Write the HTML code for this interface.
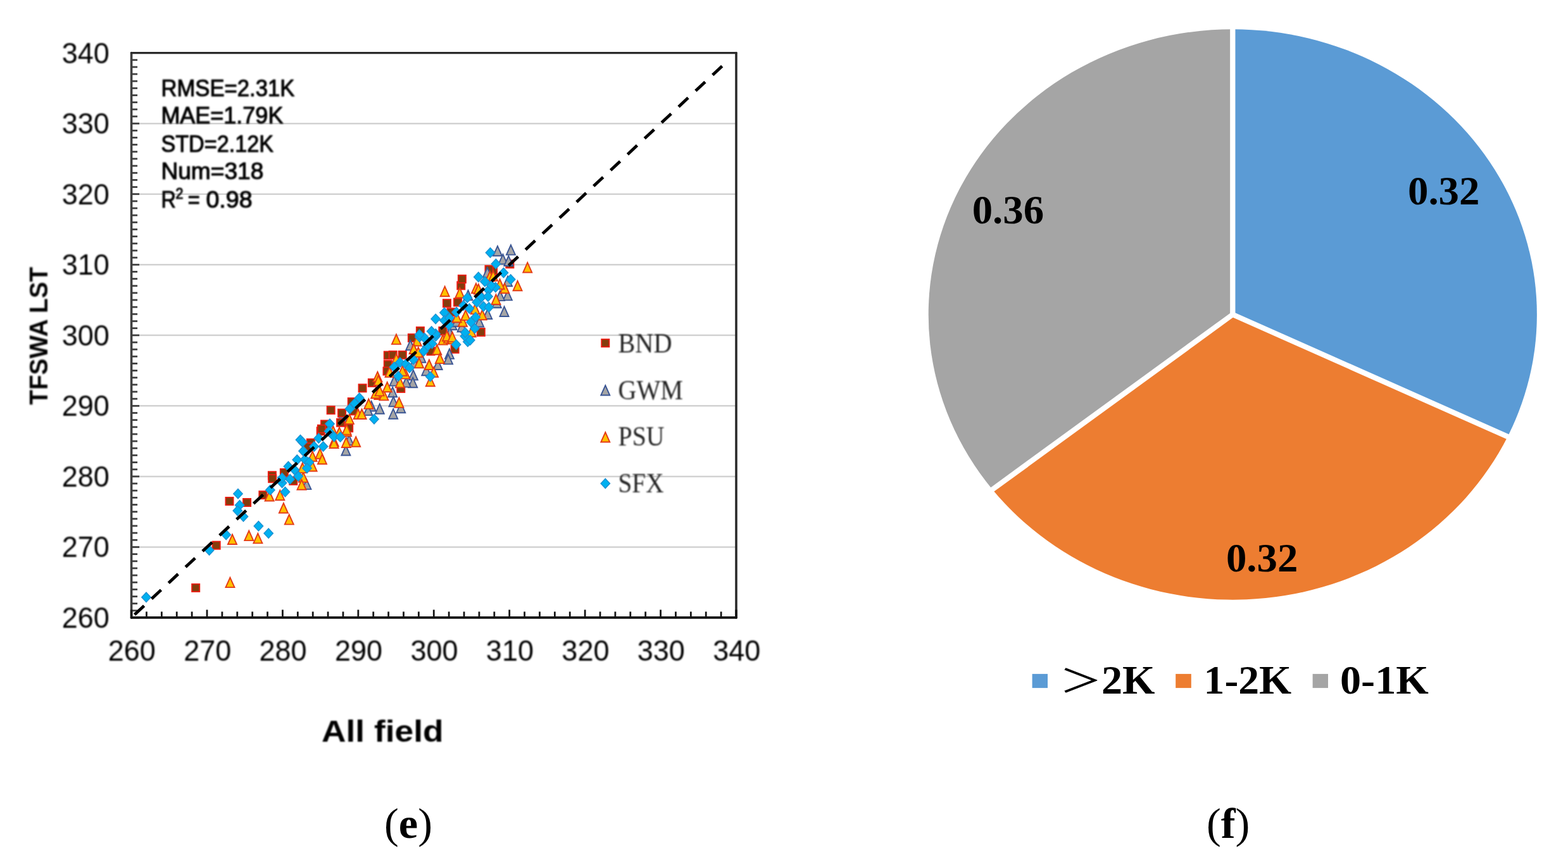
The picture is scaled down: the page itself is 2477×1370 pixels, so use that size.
<!DOCTYPE html>
<html lang="en"><head><meta charset="utf-8"><title>Figure (e) scatter and (f) pie</title>
<style>
html,body{margin:0;padding:0;background:#fff;}
body{width:2477px;height:1370px;overflow:hidden;}
svg{display:block;}
.sans{font-family:"Liberation Sans",sans-serif;}
.serif{font-family:"Liberation Serif",serif;}
.cjk{font-family:"Liberation Serif","Noto Serif CJK SC","Noto Sans CJK SC",serif;}
</style></head><body>
<svg width="2477" height="1370" viewBox="0 0 2477 1370" role="img" aria-label="Scatter plot of TFSWA LST versus field LST for all sites (e) and pie chart of error distribution (f)">
<rect x="0" y="0" width="2477" height="1370" fill="#ffffff"/>
<defs><filter id="soft" x="-2%" y="-2%" width="104%" height="104%" color-interpolation-filters="sRGB"><feGaussianBlur stdDeviation="0.8"/></filter></defs>
<g id="scatter">
<line x1="207.6" y1="864.45" x2="1163.0" y2="864.45" stroke="#d2d2d2" stroke-width="2.5"/>
<line x1="207.6" y1="752.90" x2="1163.0" y2="752.90" stroke="#d2d2d2" stroke-width="2.5"/>
<line x1="207.6" y1="641.35" x2="1163.0" y2="641.35" stroke="#d2d2d2" stroke-width="2.5"/>
<line x1="207.6" y1="529.80" x2="1163.0" y2="529.80" stroke="#d2d2d2" stroke-width="2.5"/>
<line x1="207.6" y1="418.25" x2="1163.0" y2="418.25" stroke="#d2d2d2" stroke-width="2.5"/>
<line x1="207.6" y1="306.70" x2="1163.0" y2="306.70" stroke="#d2d2d2" stroke-width="2.5"/>
<line x1="207.6" y1="195.15" x2="1163.0" y2="195.15" stroke="#d2d2d2" stroke-width="2.5"/>
<g id="yticks">
<line x1="207.6" y1="976.00" x2="220.1" y2="976.00" stroke="#404040" stroke-width="2.8"/>
<line x1="207.6" y1="964.85" x2="217.1" y2="964.85" stroke="#404040" stroke-width="2.8"/>
<line x1="207.6" y1="953.69" x2="217.1" y2="953.69" stroke="#404040" stroke-width="2.8"/>
<line x1="207.6" y1="942.53" x2="217.1" y2="942.53" stroke="#404040" stroke-width="2.8"/>
<line x1="207.6" y1="931.38" x2="217.1" y2="931.38" stroke="#404040" stroke-width="2.8"/>
<line x1="207.6" y1="920.23" x2="217.1" y2="920.23" stroke="#404040" stroke-width="2.8"/>
<line x1="207.6" y1="909.07" x2="217.1" y2="909.07" stroke="#404040" stroke-width="2.8"/>
<line x1="207.6" y1="897.91" x2="217.1" y2="897.91" stroke="#404040" stroke-width="2.8"/>
<line x1="207.6" y1="886.76" x2="217.1" y2="886.76" stroke="#404040" stroke-width="2.8"/>
<line x1="207.6" y1="875.61" x2="217.1" y2="875.61" stroke="#404040" stroke-width="2.8"/>
<line x1="207.6" y1="864.45" x2="220.1" y2="864.45" stroke="#404040" stroke-width="2.8"/>
<line x1="207.6" y1="853.29" x2="217.1" y2="853.29" stroke="#404040" stroke-width="2.8"/>
<line x1="207.6" y1="842.14" x2="217.1" y2="842.14" stroke="#404040" stroke-width="2.8"/>
<line x1="207.6" y1="830.99" x2="217.1" y2="830.99" stroke="#404040" stroke-width="2.8"/>
<line x1="207.6" y1="819.83" x2="217.1" y2="819.83" stroke="#404040" stroke-width="2.8"/>
<line x1="207.6" y1="808.67" x2="217.1" y2="808.67" stroke="#404040" stroke-width="2.8"/>
<line x1="207.6" y1="797.52" x2="217.1" y2="797.52" stroke="#404040" stroke-width="2.8"/>
<line x1="207.6" y1="786.37" x2="217.1" y2="786.37" stroke="#404040" stroke-width="2.8"/>
<line x1="207.6" y1="775.21" x2="217.1" y2="775.21" stroke="#404040" stroke-width="2.8"/>
<line x1="207.6" y1="764.06" x2="217.1" y2="764.06" stroke="#404040" stroke-width="2.8"/>
<line x1="207.6" y1="752.90" x2="220.1" y2="752.90" stroke="#404040" stroke-width="2.8"/>
<line x1="207.6" y1="741.75" x2="217.1" y2="741.75" stroke="#404040" stroke-width="2.8"/>
<line x1="207.6" y1="730.59" x2="217.1" y2="730.59" stroke="#404040" stroke-width="2.8"/>
<line x1="207.6" y1="719.43" x2="217.1" y2="719.43" stroke="#404040" stroke-width="2.8"/>
<line x1="207.6" y1="708.28" x2="217.1" y2="708.28" stroke="#404040" stroke-width="2.8"/>
<line x1="207.6" y1="697.12" x2="217.1" y2="697.12" stroke="#404040" stroke-width="2.8"/>
<line x1="207.6" y1="685.97" x2="217.1" y2="685.97" stroke="#404040" stroke-width="2.8"/>
<line x1="207.6" y1="674.82" x2="217.1" y2="674.82" stroke="#404040" stroke-width="2.8"/>
<line x1="207.6" y1="663.66" x2="217.1" y2="663.66" stroke="#404040" stroke-width="2.8"/>
<line x1="207.6" y1="652.50" x2="217.1" y2="652.50" stroke="#404040" stroke-width="2.8"/>
<line x1="207.6" y1="641.35" x2="220.1" y2="641.35" stroke="#404040" stroke-width="2.8"/>
<line x1="207.6" y1="630.20" x2="217.1" y2="630.20" stroke="#404040" stroke-width="2.8"/>
<line x1="207.6" y1="619.04" x2="217.1" y2="619.04" stroke="#404040" stroke-width="2.8"/>
<line x1="207.6" y1="607.88" x2="217.1" y2="607.88" stroke="#404040" stroke-width="2.8"/>
<line x1="207.6" y1="596.73" x2="217.1" y2="596.73" stroke="#404040" stroke-width="2.8"/>
<line x1="207.6" y1="585.58" x2="217.1" y2="585.58" stroke="#404040" stroke-width="2.8"/>
<line x1="207.6" y1="574.42" x2="217.1" y2="574.42" stroke="#404040" stroke-width="2.8"/>
<line x1="207.6" y1="563.27" x2="217.1" y2="563.27" stroke="#404040" stroke-width="2.8"/>
<line x1="207.6" y1="552.11" x2="217.1" y2="552.11" stroke="#404040" stroke-width="2.8"/>
<line x1="207.6" y1="540.96" x2="217.1" y2="540.96" stroke="#404040" stroke-width="2.8"/>
<line x1="207.6" y1="529.80" x2="220.1" y2="529.80" stroke="#404040" stroke-width="2.8"/>
<line x1="207.6" y1="518.64" x2="217.1" y2="518.64" stroke="#404040" stroke-width="2.8"/>
<line x1="207.6" y1="507.49" x2="217.1" y2="507.49" stroke="#404040" stroke-width="2.8"/>
<line x1="207.6" y1="496.34" x2="217.1" y2="496.34" stroke="#404040" stroke-width="2.8"/>
<line x1="207.6" y1="485.18" x2="217.1" y2="485.18" stroke="#404040" stroke-width="2.8"/>
<line x1="207.6" y1="474.02" x2="217.1" y2="474.02" stroke="#404040" stroke-width="2.8"/>
<line x1="207.6" y1="462.87" x2="217.1" y2="462.87" stroke="#404040" stroke-width="2.8"/>
<line x1="207.6" y1="451.72" x2="217.1" y2="451.72" stroke="#404040" stroke-width="2.8"/>
<line x1="207.6" y1="440.56" x2="217.1" y2="440.56" stroke="#404040" stroke-width="2.8"/>
<line x1="207.6" y1="429.40" x2="217.1" y2="429.40" stroke="#404040" stroke-width="2.8"/>
<line x1="207.6" y1="418.25" x2="220.1" y2="418.25" stroke="#404040" stroke-width="2.8"/>
<line x1="207.6" y1="407.10" x2="217.1" y2="407.10" stroke="#404040" stroke-width="2.8"/>
<line x1="207.6" y1="395.94" x2="217.1" y2="395.94" stroke="#404040" stroke-width="2.8"/>
<line x1="207.6" y1="384.79" x2="217.1" y2="384.79" stroke="#404040" stroke-width="2.8"/>
<line x1="207.6" y1="373.63" x2="217.1" y2="373.63" stroke="#404040" stroke-width="2.8"/>
<line x1="207.6" y1="362.48" x2="217.1" y2="362.48" stroke="#404040" stroke-width="2.8"/>
<line x1="207.6" y1="351.32" x2="217.1" y2="351.32" stroke="#404040" stroke-width="2.8"/>
<line x1="207.6" y1="340.17" x2="217.1" y2="340.17" stroke="#404040" stroke-width="2.8"/>
<line x1="207.6" y1="329.01" x2="217.1" y2="329.01" stroke="#404040" stroke-width="2.8"/>
<line x1="207.6" y1="317.86" x2="217.1" y2="317.86" stroke="#404040" stroke-width="2.8"/>
<line x1="207.6" y1="306.70" x2="220.1" y2="306.70" stroke="#404040" stroke-width="2.8"/>
<line x1="207.6" y1="295.54" x2="217.1" y2="295.54" stroke="#404040" stroke-width="2.8"/>
<line x1="207.6" y1="284.39" x2="217.1" y2="284.39" stroke="#404040" stroke-width="2.8"/>
<line x1="207.6" y1="273.24" x2="217.1" y2="273.24" stroke="#404040" stroke-width="2.8"/>
<line x1="207.6" y1="262.08" x2="217.1" y2="262.08" stroke="#404040" stroke-width="2.8"/>
<line x1="207.6" y1="250.92" x2="217.1" y2="250.92" stroke="#404040" stroke-width="2.8"/>
<line x1="207.6" y1="239.77" x2="217.1" y2="239.77" stroke="#404040" stroke-width="2.8"/>
<line x1="207.6" y1="228.62" x2="217.1" y2="228.62" stroke="#404040" stroke-width="2.8"/>
<line x1="207.6" y1="217.46" x2="217.1" y2="217.46" stroke="#404040" stroke-width="2.8"/>
<line x1="207.6" y1="206.31" x2="217.1" y2="206.31" stroke="#404040" stroke-width="2.8"/>
<line x1="207.6" y1="195.15" x2="220.1" y2="195.15" stroke="#404040" stroke-width="2.8"/>
<line x1="207.6" y1="184.00" x2="217.1" y2="184.00" stroke="#404040" stroke-width="2.8"/>
<line x1="207.6" y1="172.84" x2="217.1" y2="172.84" stroke="#404040" stroke-width="2.8"/>
<line x1="207.6" y1="161.69" x2="217.1" y2="161.69" stroke="#404040" stroke-width="2.8"/>
<line x1="207.6" y1="150.53" x2="217.1" y2="150.53" stroke="#404040" stroke-width="2.8"/>
<line x1="207.6" y1="139.38" x2="217.1" y2="139.38" stroke="#404040" stroke-width="2.8"/>
<line x1="207.6" y1="128.22" x2="217.1" y2="128.22" stroke="#404040" stroke-width="2.8"/>
<line x1="207.6" y1="117.06" x2="217.1" y2="117.06" stroke="#404040" stroke-width="2.8"/>
<line x1="207.6" y1="105.91" x2="217.1" y2="105.91" stroke="#404040" stroke-width="2.8"/>
<line x1="207.6" y1="94.76" x2="217.1" y2="94.76" stroke="#404040" stroke-width="2.8"/>
<line x1="207.6" y1="83.60" x2="220.1" y2="83.60" stroke="#404040" stroke-width="2.8"/>
</g>
<g id="pts">
<path d="M542.7 652.1L550.0 659.9L542.7 667.7L535.4 659.9Z" fill="#00b0f0" stroke="#1f8fd0" stroke-width="1.3"/>
<path d="M546.0 658.7L553.3 666.5L546.0 674.3L538.7 666.5Z" fill="#00b0f0" stroke="#1f8fd0" stroke-width="1.3"/>
<rect x="303.1" y="922.8" width="12.2" height="12.2" fill="#843c0c" stroke="#ee1c12" stroke-width="1.8"/>
<rect x="335.6" y="855.6" width="12.2" height="12.2" fill="#843c0c" stroke="#ee1c12" stroke-width="1.8"/>
<rect x="356.4" y="785.9" width="12.2" height="12.2" fill="#843c0c" stroke="#ee1c12" stroke-width="1.8"/>
<rect x="384.0" y="787.9" width="12.2" height="12.2" fill="#843c0c" stroke="#ee1c12" stroke-width="1.8"/>
<rect x="409.3" y="776.1" width="12.2" height="12.2" fill="#843c0c" stroke="#ee1c12" stroke-width="1.8"/>
<rect x="457.2" y="753.8" width="12.2" height="12.2" fill="#843c0c" stroke="#ee1c12" stroke-width="1.8"/>
<rect x="484.8" y="693.6" width="12.2" height="12.2" fill="#843c0c" stroke="#ee1c12" stroke-width="1.8"/>
<rect x="500.6" y="675.2" width="12.2" height="12.2" fill="#843c0c" stroke="#ee1c12" stroke-width="1.8"/>
<rect x="423.8" y="745.2" width="12.2" height="12.2" fill="#843c0c" stroke="#ee1c12" stroke-width="1.8"/>
<rect x="424.1" y="750.1" width="12.2" height="12.2" fill="#843c0c" stroke="#ee1c12" stroke-width="1.8"/>
<rect x="442.8" y="740.9" width="12.2" height="12.2" fill="#843c0c" stroke="#ee1c12" stroke-width="1.8"/>
<rect x="479.6" y="700.2" width="12.2" height="12.2" fill="#843c0c" stroke="#ee1c12" stroke-width="1.8"/>
<rect x="566.5" y="607.2" width="12.2" height="12.2" fill="#843c0c" stroke="#ee1c12" stroke-width="1.8"/>
<rect x="627.2" y="607.8" width="12.2" height="12.2" fill="#843c0c" stroke="#ee1c12" stroke-width="1.8"/>
<rect x="516.6" y="642.0" width="12.2" height="12.2" fill="#843c0c" stroke="#ee1c12" stroke-width="1.8"/>
<rect x="534.0" y="646.6" width="12.2" height="12.2" fill="#843c0c" stroke="#ee1c12" stroke-width="1.8"/>
<rect x="549.7" y="628.9" width="12.2" height="12.2" fill="#843c0c" stroke="#ee1c12" stroke-width="1.8"/>
<rect x="553.0" y="643.3" width="12.2" height="12.2" fill="#843c0c" stroke="#ee1c12" stroke-width="1.8"/>
<rect x="532.0" y="661.7" width="12.2" height="12.2" fill="#843c0c" stroke="#ee1c12" stroke-width="1.8"/>
<rect x="545.1" y="670.2" width="12.2" height="12.2" fill="#843c0c" stroke="#ee1c12" stroke-width="1.8"/>
<rect x="507.0" y="664.3" width="12.2" height="12.2" fill="#843c0c" stroke="#ee1c12" stroke-width="1.8"/>
<rect x="501.8" y="671.6" width="12.2" height="12.2" fill="#843c0c" stroke="#ee1c12" stroke-width="1.8"/>
<rect x="606.7" y="555.4" width="12.2" height="12.2" fill="#843c0c" stroke="#ee1c12" stroke-width="1.8"/>
<rect x="614.6" y="554.8" width="12.2" height="12.2" fill="#843c0c" stroke="#ee1c12" stroke-width="1.8"/>
<rect x="606.7" y="569.9" width="12.2" height="12.2" fill="#843c0c" stroke="#ee1c12" stroke-width="1.8"/>
<rect x="629.7" y="554.8" width="12.2" height="12.2" fill="#843c0c" stroke="#ee1c12" stroke-width="1.8"/>
<rect x="605.4" y="580.4" width="12.2" height="12.2" fill="#843c0c" stroke="#ee1c12" stroke-width="1.8"/>
<rect x="712.5" y="545.6" width="12.2" height="12.2" fill="#843c0c" stroke="#ee1c12" stroke-width="1.8"/>
<rect x="581.8" y="598.8" width="12.2" height="12.2" fill="#843c0c" stroke="#ee1c12" stroke-width="1.8"/>
<rect x="674.4" y="548.9" width="12.2" height="12.2" fill="#843c0c" stroke="#ee1c12" stroke-width="1.8"/>
<rect x="644.8" y="527.8" width="12.2" height="12.2" fill="#843c0c" stroke="#ee1c12" stroke-width="1.8"/>
<rect x="699.9" y="473.1" width="12.2" height="12.2" fill="#843c0c" stroke="#ee1c12" stroke-width="1.8"/>
<rect x="717.0" y="471.5" width="12.2" height="12.2" fill="#843c0c" stroke="#ee1c12" stroke-width="1.8"/>
<rect x="722.2" y="445.2" width="12.2" height="12.2" fill="#843c0c" stroke="#ee1c12" stroke-width="1.8"/>
<rect x="753.7" y="518.8" width="12.2" height="12.2" fill="#843c0c" stroke="#ee1c12" stroke-width="1.8"/>
<rect x="706.4" y="487.2" width="12.2" height="12.2" fill="#843c0c" stroke="#ee1c12" stroke-width="1.8"/>
<rect x="657.8" y="516.8" width="12.2" height="12.2" fill="#843c0c" stroke="#ee1c12" stroke-width="1.8"/>
<rect x="693.3" y="516.8" width="12.2" height="12.2" fill="#843c0c" stroke="#ee1c12" stroke-width="1.8"/>
<rect x="723.8" y="434.8" width="12.2" height="12.2" fill="#843c0c" stroke="#ee1c12" stroke-width="1.8"/>
<rect x="773.0" y="421.7" width="12.2" height="12.2" fill="#843c0c" stroke="#ee1c12" stroke-width="1.8"/>
<rect x="766.4" y="419.7" width="12.2" height="12.2" fill="#843c0c" stroke="#ee1c12" stroke-width="1.8"/>
<rect x="799.3" y="411.2" width="12.2" height="12.2" fill="#843c0c" stroke="#ee1c12" stroke-width="1.8"/>
<path d="M484.4 757.6L491.4 773.1L477.4 773.1Z" fill="#a5a5a5" stroke="#3a5594" stroke-width="1.9" stroke-linejoin="miter"/>
<path d="M546.4 704.0L553.4 719.5L539.4 719.5Z" fill="#a5a5a5" stroke="#3a5594" stroke-width="1.9" stroke-linejoin="miter"/>
<path d="M551.4 687.6L558.4 703.1L544.4 703.1Z" fill="#a5a5a5" stroke="#3a5594" stroke-width="1.9" stroke-linejoin="miter"/>
<path d="M620.2 611.7L627.2 627.2L613.2 627.2Z" fill="#a5a5a5" stroke="#3a5594" stroke-width="1.9" stroke-linejoin="miter"/>
<path d="M621.5 626.8L628.5 642.2L614.5 642.2Z" fill="#a5a5a5" stroke="#3a5594" stroke-width="1.9" stroke-linejoin="miter"/>
<path d="M599.8 638.2L606.8 653.8L592.8 653.8Z" fill="#a5a5a5" stroke="#3a5594" stroke-width="1.9" stroke-linejoin="miter"/>
<path d="M586.7 634.0L593.7 649.5L579.7 649.5Z" fill="#a5a5a5" stroke="#3a5594" stroke-width="1.9" stroke-linejoin="miter"/>
<path d="M581.4 640.6L588.4 656.1L574.4 656.1Z" fill="#a5a5a5" stroke="#3a5594" stroke-width="1.9" stroke-linejoin="miter"/>
<path d="M621.2 646.2L628.2 661.7L614.2 661.7Z" fill="#a5a5a5" stroke="#3a5594" stroke-width="1.9" stroke-linejoin="miter"/>
<path d="M633.3 636.7L640.3 652.2L626.3 652.2Z" fill="#a5a5a5" stroke="#3a5594" stroke-width="1.9" stroke-linejoin="miter"/>
<path d="M648.3 537.6L655.3 553.1L641.3 553.1Z" fill="#a5a5a5" stroke="#3a5594" stroke-width="1.9" stroke-linejoin="miter"/>
<path d="M710.0 551.4L717.0 566.9L703.0 566.9Z" fill="#a5a5a5" stroke="#3a5594" stroke-width="1.9" stroke-linejoin="miter"/>
<path d="M708.1 559.9L715.1 575.4L701.1 575.4Z" fill="#a5a5a5" stroke="#3a5594" stroke-width="1.9" stroke-linejoin="miter"/>
<path d="M691.7 568.5L698.7 584.0L684.7 584.0Z" fill="#a5a5a5" stroke="#3a5594" stroke-width="1.9" stroke-linejoin="miter"/>
<path d="M673.3 577.7L680.3 593.2L666.3 593.2Z" fill="#a5a5a5" stroke="#3a5594" stroke-width="1.9" stroke-linejoin="miter"/>
<path d="M652.9 584.9L659.9 600.4L645.9 600.4Z" fill="#a5a5a5" stroke="#3a5594" stroke-width="1.9" stroke-linejoin="miter"/>
<path d="M652.2 596.7L659.2 612.2L645.2 612.2Z" fill="#a5a5a5" stroke="#3a5594" stroke-width="1.9" stroke-linejoin="miter"/>
<path d="M641.7 596.1L648.7 611.6L634.7 611.6Z" fill="#a5a5a5" stroke="#3a5594" stroke-width="1.9" stroke-linejoin="miter"/>
<path d="M622.7 594.1L629.7 609.6L615.7 609.6Z" fill="#a5a5a5" stroke="#3a5594" stroke-width="1.9" stroke-linejoin="miter"/>
<path d="M665.4 557.2L672.4 572.8L658.4 572.8Z" fill="#a5a5a5" stroke="#3a5594" stroke-width="1.9" stroke-linejoin="miter"/>
<path d="M654.2 565.2L661.2 580.7L647.2 580.7Z" fill="#a5a5a5" stroke="#3a5594" stroke-width="1.9" stroke-linejoin="miter"/>
<path d="M739.5 458.8L746.5 474.4L732.5 474.4Z" fill="#a5a5a5" stroke="#3a5594" stroke-width="1.9" stroke-linejoin="miter"/>
<path d="M801.9 458.8L808.9 474.4L794.9 474.4Z" fill="#a5a5a5" stroke="#3a5594" stroke-width="1.9" stroke-linejoin="miter"/>
<path d="M790.0 459.6L797.0 475.1L783.0 475.1Z" fill="#a5a5a5" stroke="#3a5594" stroke-width="1.9" stroke-linejoin="miter"/>
<path d="M796.6 484.4L803.6 500.0L789.6 500.0Z" fill="#a5a5a5" stroke="#3a5594" stroke-width="1.9" stroke-linejoin="miter"/>
<path d="M784.8 470.6L791.8 486.2L777.8 486.2Z" fill="#a5a5a5" stroke="#3a5594" stroke-width="1.9" stroke-linejoin="miter"/>
<path d="M757.2 500.9L764.2 516.5L750.2 516.5Z" fill="#a5a5a5" stroke="#3a5594" stroke-width="1.9" stroke-linejoin="miter"/>
<path d="M770.3 488.4L777.3 504.0L763.3 504.0Z" fill="#a5a5a5" stroke="#3a5594" stroke-width="1.9" stroke-linejoin="miter"/>
<path d="M714.5 505.6L721.5 521.1L707.5 521.1Z" fill="#a5a5a5" stroke="#3a5594" stroke-width="1.9" stroke-linejoin="miter"/>
<path d="M721.7 500.2L728.7 515.8L714.7 515.8Z" fill="#a5a5a5" stroke="#3a5594" stroke-width="1.9" stroke-linejoin="miter"/>
<path d="M729.6 508.7L736.6 524.2L722.6 524.2Z" fill="#a5a5a5" stroke="#3a5594" stroke-width="1.9" stroke-linejoin="miter"/>
<path d="M710.6 518.0L717.6 533.5L703.6 533.5Z" fill="#a5a5a5" stroke="#3a5594" stroke-width="1.9" stroke-linejoin="miter"/>
<path d="M786.0 388.8L793.0 404.3L779.0 404.3Z" fill="#a5a5a5" stroke="#3a5594" stroke-width="1.9" stroke-linejoin="miter"/>
<path d="M807.0 387.1L814.0 402.6L800.0 402.6Z" fill="#a5a5a5" stroke="#3a5594" stroke-width="1.9" stroke-linejoin="miter"/>
<path d="M794.5 401.8L801.5 417.4L787.5 417.4Z" fill="#a5a5a5" stroke="#3a5594" stroke-width="1.9" stroke-linejoin="miter"/>
<path d="M803.4 404.4L810.4 420.0L796.4 420.0Z" fill="#a5a5a5" stroke="#3a5594" stroke-width="1.9" stroke-linejoin="miter"/>
<path d="M769.9 422.8L776.9 438.4L762.9 438.4Z" fill="#a5a5a5" stroke="#3a5594" stroke-width="1.9" stroke-linejoin="miter"/>
<path d="M802.1 436.6L809.1 452.2L795.1 452.2Z" fill="#a5a5a5" stroke="#3a5594" stroke-width="1.9" stroke-linejoin="miter"/>
<path d="M363.5 912.6L370.5 928.1L356.5 928.1Z" fill="#ffc000" stroke="#e43a17" stroke-width="1.9" stroke-linejoin="miter"/>
<path d="M367.0 844.5L374.0 860.0L360.0 860.0Z" fill="#ffc000" stroke="#e43a17" stroke-width="1.9" stroke-linejoin="miter"/>
<path d="M393.3 838.6L400.3 854.1L386.3 854.1Z" fill="#ffc000" stroke="#e43a17" stroke-width="1.9" stroke-linejoin="miter"/>
<path d="M407.4 842.9L414.4 858.4L400.4 858.4Z" fill="#ffc000" stroke="#e43a17" stroke-width="1.9" stroke-linejoin="miter"/>
<path d="M425.6 776.0L432.6 791.5L418.6 791.5Z" fill="#ffc000" stroke="#e43a17" stroke-width="1.9" stroke-linejoin="miter"/>
<path d="M442.3 774.7L449.3 790.2L435.3 790.2Z" fill="#ffc000" stroke="#e43a17" stroke-width="1.9" stroke-linejoin="miter"/>
<path d="M447.9 795.0L454.9 810.5L440.9 810.5Z" fill="#ffc000" stroke="#e43a17" stroke-width="1.9" stroke-linejoin="miter"/>
<path d="M456.8 813.1L463.8 828.6L449.8 828.6Z" fill="#ffc000" stroke="#e43a17" stroke-width="1.9" stroke-linejoin="miter"/>
<path d="M479.1 746.4L486.1 761.9L472.1 761.9Z" fill="#ffc000" stroke="#e43a17" stroke-width="1.9" stroke-linejoin="miter"/>
<path d="M476.5 758.2L483.5 773.8L469.5 773.8Z" fill="#ffc000" stroke="#e43a17" stroke-width="1.9" stroke-linejoin="miter"/>
<path d="M527.7 689.6L534.7 705.1L520.7 705.1Z" fill="#ffc000" stroke="#e43a17" stroke-width="1.9" stroke-linejoin="miter"/>
<path d="M546.8 691.5L553.8 707.0L539.8 707.0Z" fill="#ffc000" stroke="#e43a17" stroke-width="1.9" stroke-linejoin="miter"/>
<path d="M562.2 690.2L569.2 705.7L555.2 705.7Z" fill="#ffc000" stroke="#e43a17" stroke-width="1.9" stroke-linejoin="miter"/>
<path d="M548.1 673.8L555.1 689.2L541.1 689.2Z" fill="#ffc000" stroke="#e43a17" stroke-width="1.9" stroke-linejoin="miter"/>
<path d="M493.6 713.2L500.6 728.7L486.6 728.7Z" fill="#ffc000" stroke="#e43a17" stroke-width="1.9" stroke-linejoin="miter"/>
<path d="M505.4 709.2L512.4 724.8L498.4 724.8Z" fill="#ffc000" stroke="#e43a17" stroke-width="1.9" stroke-linejoin="miter"/>
<path d="M509.0 717.8L516.0 733.2L502.0 733.2Z" fill="#ffc000" stroke="#e43a17" stroke-width="1.9" stroke-linejoin="miter"/>
<path d="M493.6 729.0L500.6 744.5L486.6 744.5Z" fill="#ffc000" stroke="#e43a17" stroke-width="1.9" stroke-linejoin="miter"/>
<path d="M477.8 731.6L484.8 747.1L470.8 747.1Z" fill="#ffc000" stroke="#e43a17" stroke-width="1.9" stroke-linejoin="miter"/>
<path d="M582.4 630.4L589.4 645.9L575.4 645.9Z" fill="#ffc000" stroke="#e43a17" stroke-width="1.9" stroke-linejoin="miter"/>
<path d="M598.5 615.6L605.5 631.1L591.5 631.1Z" fill="#ffc000" stroke="#e43a17" stroke-width="1.9" stroke-linejoin="miter"/>
<path d="M593.3 613.7L600.3 629.2L586.3 629.2Z" fill="#ffc000" stroke="#e43a17" stroke-width="1.9" stroke-linejoin="miter"/>
<path d="M606.4 616.9L613.4 632.4L599.4 632.4Z" fill="#ffc000" stroke="#e43a17" stroke-width="1.9" stroke-linejoin="miter"/>
<path d="M611.7 603.8L618.7 619.2L604.7 619.2Z" fill="#ffc000" stroke="#e43a17" stroke-width="1.9" stroke-linejoin="miter"/>
<path d="M630.4 628.4L637.4 643.9L623.4 643.9Z" fill="#ffc000" stroke="#e43a17" stroke-width="1.9" stroke-linejoin="miter"/>
<path d="M565.7 646.5L572.7 662.0L558.7 662.0Z" fill="#ffc000" stroke="#e43a17" stroke-width="1.9" stroke-linejoin="miter"/>
<path d="M571.6 646.5L578.6 662.0L564.6 662.0Z" fill="#ffc000" stroke="#e43a17" stroke-width="1.9" stroke-linejoin="miter"/>
<path d="M551.9 654.4L558.9 669.9L544.9 669.9Z" fill="#ffc000" stroke="#e43a17" stroke-width="1.9" stroke-linejoin="miter"/>
<path d="M547.6 671.1L554.6 686.6L540.6 686.6Z" fill="#ffc000" stroke="#e43a17" stroke-width="1.9" stroke-linejoin="miter"/>
<path d="M526.3 673.4L533.3 688.9L519.3 688.9Z" fill="#ffc000" stroke="#e43a17" stroke-width="1.9" stroke-linejoin="miter"/>
<path d="M536.1 675.4L543.1 690.9L529.1 690.9Z" fill="#ffc000" stroke="#e43a17" stroke-width="1.9" stroke-linejoin="miter"/>
<path d="M527.6 692.5L534.6 708.0L520.6 708.0Z" fill="#ffc000" stroke="#e43a17" stroke-width="1.9" stroke-linejoin="miter"/>
<path d="M626.0 528.4L633.0 543.9L619.0 543.9Z" fill="#ffc000" stroke="#e43a17" stroke-width="1.9" stroke-linejoin="miter"/>
<path d="M658.8 531.0L665.8 546.5L651.8 546.5Z" fill="#ffc000" stroke="#e43a17" stroke-width="1.9" stroke-linejoin="miter"/>
<path d="M653.6 543.5L660.6 559.0L646.6 559.0Z" fill="#ffc000" stroke="#e43a17" stroke-width="1.9" stroke-linejoin="miter"/>
<path d="M660.8 548.8L667.8 564.2L653.8 564.2Z" fill="#ffc000" stroke="#e43a17" stroke-width="1.9" stroke-linejoin="miter"/>
<path d="M690.3 544.8L697.3 560.2L683.3 560.2Z" fill="#ffc000" stroke="#e43a17" stroke-width="1.9" stroke-linejoin="miter"/>
<path d="M699.5 529.1L706.5 544.6L692.5 544.6Z" fill="#ffc000" stroke="#e43a17" stroke-width="1.9" stroke-linejoin="miter"/>
<path d="M708.1 526.4L715.1 541.9L701.1 541.9Z" fill="#ffc000" stroke="#e43a17" stroke-width="1.9" stroke-linejoin="miter"/>
<path d="M714.6 527.8L721.6 543.2L707.6 543.2Z" fill="#ffc000" stroke="#e43a17" stroke-width="1.9" stroke-linejoin="miter"/>
<path d="M694.9 558.6L701.9 574.1L687.9 574.1Z" fill="#ffc000" stroke="#e43a17" stroke-width="1.9" stroke-linejoin="miter"/>
<path d="M662.1 565.8L669.1 581.2L655.1 581.2Z" fill="#ffc000" stroke="#e43a17" stroke-width="1.9" stroke-linejoin="miter"/>
<path d="M677.9 568.5L684.9 584.0L670.9 584.0Z" fill="#ffc000" stroke="#e43a17" stroke-width="1.9" stroke-linejoin="miter"/>
<path d="M685.1 580.2L692.1 595.8L678.1 595.8Z" fill="#ffc000" stroke="#e43a17" stroke-width="1.9" stroke-linejoin="miter"/>
<path d="M679.8 594.7L686.8 610.2L672.8 610.2Z" fill="#ffc000" stroke="#e43a17" stroke-width="1.9" stroke-linejoin="miter"/>
<path d="M626.0 559.2L633.0 574.8L619.0 574.8Z" fill="#ffc000" stroke="#e43a17" stroke-width="1.9" stroke-linejoin="miter"/>
<path d="M640.4 582.9L647.4 598.4L633.4 598.4Z" fill="#ffc000" stroke="#e43a17" stroke-width="1.9" stroke-linejoin="miter"/>
<path d="M635.8 578.2L642.8 593.8L628.8 593.8Z" fill="#ffc000" stroke="#e43a17" stroke-width="1.9" stroke-linejoin="miter"/>
<path d="M631.9 596.7L638.9 612.2L624.9 612.2Z" fill="#ffc000" stroke="#e43a17" stroke-width="1.9" stroke-linejoin="miter"/>
<path d="M596.4 587.5L603.4 603.0L589.4 603.0Z" fill="#ffc000" stroke="#e43a17" stroke-width="1.9" stroke-linejoin="miter"/>
<path d="M597.7 593.4L604.7 608.9L590.7 608.9Z" fill="#ffc000" stroke="#e43a17" stroke-width="1.9" stroke-linejoin="miter"/>
<path d="M615.5 580.2L622.5 595.8L608.5 595.8Z" fill="#ffc000" stroke="#e43a17" stroke-width="1.9" stroke-linejoin="miter"/>
<path d="M599.7 609.9L606.7 625.4L592.7 625.4Z" fill="#ffc000" stroke="#e43a17" stroke-width="1.9" stroke-linejoin="miter"/>
<path d="M702.7 452.6L709.7 468.2L695.7 468.2Z" fill="#ffc000" stroke="#e43a17" stroke-width="1.9" stroke-linejoin="miter"/>
<path d="M726.3 454.9L733.3 470.5L719.3 470.5Z" fill="#ffc000" stroke="#e43a17" stroke-width="1.9" stroke-linejoin="miter"/>
<path d="M752.0 447.8L759.0 463.3L745.0 463.3Z" fill="#ffc000" stroke="#e43a17" stroke-width="1.9" stroke-linejoin="miter"/>
<path d="M755.9 449.1L762.9 464.6L748.9 464.6Z" fill="#ffc000" stroke="#e43a17" stroke-width="1.9" stroke-linejoin="miter"/>
<path d="M797.3 447.8L804.3 463.3L790.3 463.3Z" fill="#ffc000" stroke="#e43a17" stroke-width="1.9" stroke-linejoin="miter"/>
<path d="M817.6 443.8L824.6 459.3L810.6 459.3Z" fill="#ffc000" stroke="#e43a17" stroke-width="1.9" stroke-linejoin="miter"/>
<path d="M783.5 465.4L790.5 481.0L776.5 481.0Z" fill="#ffc000" stroke="#e43a17" stroke-width="1.9" stroke-linejoin="miter"/>
<path d="M730.9 500.2L737.9 515.8L723.9 515.8Z" fill="#ffc000" stroke="#e43a17" stroke-width="1.9" stroke-linejoin="miter"/>
<path d="M750.6 480.6L757.6 496.1L743.6 496.1Z" fill="#ffc000" stroke="#e43a17" stroke-width="1.9" stroke-linejoin="miter"/>
<path d="M761.8 489.8L768.8 505.3L754.8 505.3Z" fill="#ffc000" stroke="#e43a17" stroke-width="1.9" stroke-linejoin="miter"/>
<path d="M735.5 490.3L742.5 505.9L728.5 505.9Z" fill="#ffc000" stroke="#e43a17" stroke-width="1.9" stroke-linejoin="miter"/>
<path d="M721.7 493.6L728.7 509.2L714.7 509.2Z" fill="#ffc000" stroke="#e43a17" stroke-width="1.9" stroke-linejoin="miter"/>
<path d="M706.0 523.2L713.0 538.8L699.0 538.8Z" fill="#ffc000" stroke="#e43a17" stroke-width="1.9" stroke-linejoin="miter"/>
<path d="M714.5 524.6L721.5 540.1L707.5 540.1Z" fill="#ffc000" stroke="#e43a17" stroke-width="1.9" stroke-linejoin="miter"/>
<path d="M744.7 516.7L751.7 532.2L737.7 532.2Z" fill="#ffc000" stroke="#e43a17" stroke-width="1.9" stroke-linejoin="miter"/>
<path d="M833.3 414.9L840.3 430.5L826.3 430.5Z" fill="#ffc000" stroke="#e43a17" stroke-width="1.9" stroke-linejoin="miter"/>
<path d="M789.6 441.2L796.6 456.8L782.6 456.8Z" fill="#ffc000" stroke="#e43a17" stroke-width="1.9" stroke-linejoin="miter"/>
<path d="M773.9 428.8L780.9 444.3L766.9 444.3Z" fill="#ffc000" stroke="#e43a17" stroke-width="1.9" stroke-linejoin="miter"/>
<path d="M779.1 428.1L786.1 443.7L772.1 443.7Z" fill="#ffc000" stroke="#e43a17" stroke-width="1.9" stroke-linejoin="miter"/>
<path d="M231.0 936.0L238.3 943.8L231.0 951.6L223.7 943.8Z" fill="#00b0f0" stroke="#1f8fd0" stroke-width="1.3"/>
<path d="M330.6 861.6L337.9 869.4L330.6 877.2L323.3 869.4Z" fill="#00b0f0" stroke="#1f8fd0" stroke-width="1.3"/>
<path d="M357.2 837.3L364.5 845.1L357.2 852.9L349.9 845.1Z" fill="#00b0f0" stroke="#1f8fd0" stroke-width="1.3"/>
<path d="M424.2 835.0L431.5 842.8L424.2 850.6L416.9 842.8Z" fill="#00b0f0" stroke="#1f8fd0" stroke-width="1.3"/>
<path d="M408.4 823.5L415.7 831.3L408.4 839.1L401.1 831.3Z" fill="#00b0f0" stroke="#1f8fd0" stroke-width="1.3"/>
<path d="M376.0 772.4L383.3 780.2L376.0 788.0L368.7 780.2Z" fill="#00b0f0" stroke="#1f8fd0" stroke-width="1.3"/>
<path d="M378.6 790.5L385.9 798.3L378.6 806.1L371.3 798.3Z" fill="#00b0f0" stroke="#1f8fd0" stroke-width="1.3"/>
<path d="M375.3 799.3L382.6 807.1L375.3 814.9L368.0 807.1Z" fill="#00b0f0" stroke="#1f8fd0" stroke-width="1.3"/>
<path d="M384.5 808.5L391.8 816.3L384.5 824.1L377.2 816.3Z" fill="#00b0f0" stroke="#1f8fd0" stroke-width="1.3"/>
<path d="M426.9 766.5L434.2 774.3L426.9 782.1L419.6 774.3Z" fill="#00b0f0" stroke="#1f8fd0" stroke-width="1.3"/>
<path d="M450.5 769.5L457.8 777.3L450.5 785.1L443.2 777.3Z" fill="#00b0f0" stroke="#1f8fd0" stroke-width="1.3"/>
<path d="M445.6 755.3L452.9 763.1L445.6 770.9L438.3 763.1Z" fill="#00b0f0" stroke="#1f8fd0" stroke-width="1.3"/>
<path d="M445.6 747.5L452.9 755.3L445.6 763.1L438.3 755.3Z" fill="#00b0f0" stroke="#1f8fd0" stroke-width="1.3"/>
<path d="M458.1 749.4L465.4 757.2L458.1 765.0L450.8 757.2Z" fill="#00b0f0" stroke="#1f8fd0" stroke-width="1.3"/>
<path d="M471.2 744.8L478.5 752.6L471.2 760.4L463.9 752.6Z" fill="#00b0f0" stroke="#1f8fd0" stroke-width="1.3"/>
<path d="M474.5 687.3L481.8 695.1L474.5 702.9L467.2 695.1Z" fill="#00b0f0" stroke="#1f8fd0" stroke-width="1.3"/>
<path d="M477.8 690.6L485.1 698.4L477.8 706.2L470.5 698.4Z" fill="#00b0f0" stroke="#1f8fd0" stroke-width="1.3"/>
<path d="M503.4 684.7L510.7 692.5L503.4 700.3L496.1 692.5Z" fill="#00b0f0" stroke="#1f8fd0" stroke-width="1.3"/>
<path d="M527.7 682.1L535.0 689.9L527.7 697.7L520.4 689.9Z" fill="#00b0f0" stroke="#1f8fd0" stroke-width="1.3"/>
<path d="M537.6 682.7L544.9 690.5L537.6 698.3L530.3 690.5Z" fill="#00b0f0" stroke="#1f8fd0" stroke-width="1.3"/>
<path d="M496.2 697.8L503.5 705.6L496.2 713.4L488.9 705.6Z" fill="#00b0f0" stroke="#1f8fd0" stroke-width="1.3"/>
<path d="M510.6 697.8L517.9 705.6L510.6 713.4L503.3 705.6Z" fill="#00b0f0" stroke="#1f8fd0" stroke-width="1.3"/>
<path d="M479.1 705.0L486.4 712.8L479.1 720.6L471.8 712.8Z" fill="#00b0f0" stroke="#1f8fd0" stroke-width="1.3"/>
<path d="M469.3 718.8L476.6 726.6L469.3 734.4L462.0 726.6Z" fill="#00b0f0" stroke="#1f8fd0" stroke-width="1.3"/>
<path d="M481.7 718.2L489.0 726.0L481.7 733.8L474.4 726.0Z" fill="#00b0f0" stroke="#1f8fd0" stroke-width="1.3"/>
<path d="M488.3 722.8L495.6 730.6L488.3 738.4L481.0 730.6Z" fill="#00b0f0" stroke="#1f8fd0" stroke-width="1.3"/>
<path d="M485.0 732.0L492.3 739.8L485.0 747.6L477.7 739.8Z" fill="#00b0f0" stroke="#1f8fd0" stroke-width="1.3"/>
<path d="M455.5 729.3L462.8 737.1L455.5 744.9L448.2 737.1Z" fill="#00b0f0" stroke="#1f8fd0" stroke-width="1.3"/>
<path d="M465.3 734.6L472.6 742.4L465.3 750.2L458.0 742.4Z" fill="#00b0f0" stroke="#1f8fd0" stroke-width="1.3"/>
<path d="M567.7 620.9L575.0 628.7L567.7 636.5L560.4 628.7Z" fill="#00b0f0" stroke="#1f8fd0" stroke-width="1.3"/>
<path d="M560.4 629.8L567.7 637.6L560.4 645.4L553.1 637.6Z" fill="#00b0f0" stroke="#1f8fd0" stroke-width="1.3"/>
<path d="M552.5 638.3L559.8 646.1L552.5 653.9L545.2 646.1Z" fill="#00b0f0" stroke="#1f8fd0" stroke-width="1.3"/>
<path d="M591.0 654.4L598.3 662.2L591.0 670.0L583.7 662.2Z" fill="#00b0f0" stroke="#1f8fd0" stroke-width="1.3"/>
<path d="M521.0 662.0L528.3 669.8L521.0 677.6L513.7 669.8Z" fill="#00b0f0" stroke="#1f8fd0" stroke-width="1.3"/>
<path d="M519.7 673.8L527.0 681.6L519.7 689.4L512.4 681.6Z" fill="#00b0f0" stroke="#1f8fd0" stroke-width="1.3"/>
<path d="M662.8 524.8L670.1 532.6L662.8 540.4L655.5 532.6Z" fill="#00b0f0" stroke="#1f8fd0" stroke-width="1.3"/>
<path d="M670.6 526.1L677.9 533.9L670.6 541.7L663.3 533.9Z" fill="#00b0f0" stroke="#1f8fd0" stroke-width="1.3"/>
<path d="M688.4 523.5L695.7 531.3L688.4 539.1L681.1 531.3Z" fill="#00b0f0" stroke="#1f8fd0" stroke-width="1.3"/>
<path d="M682.5 535.3L689.8 543.1L682.5 550.9L675.2 543.1Z" fill="#00b0f0" stroke="#1f8fd0" stroke-width="1.3"/>
<path d="M674.6 539.9L681.9 547.7L674.6 555.5L667.3 547.7Z" fill="#00b0f0" stroke="#1f8fd0" stroke-width="1.3"/>
<path d="M669.3 547.2L676.6 555.0L669.3 562.8L662.0 555.0Z" fill="#00b0f0" stroke="#1f8fd0" stroke-width="1.3"/>
<path d="M720.6 536.6L727.9 544.4L720.6 552.2L713.3 544.4Z" fill="#00b0f0" stroke="#1f8fd0" stroke-width="1.3"/>
<path d="M738.9 532.1L746.2 539.9L738.9 547.7L731.6 539.9Z" fill="#00b0f0" stroke="#1f8fd0" stroke-width="1.3"/>
<path d="M734.4 523.5L741.7 531.3L734.4 539.1L727.1 531.3Z" fill="#00b0f0" stroke="#1f8fd0" stroke-width="1.3"/>
<path d="M652.9 560.3L660.2 568.1L652.9 575.9L645.6 568.1Z" fill="#00b0f0" stroke="#1f8fd0" stroke-width="1.3"/>
<path d="M631.9 564.9L639.2 572.7L631.9 580.5L624.6 572.7Z" fill="#00b0f0" stroke="#1f8fd0" stroke-width="1.3"/>
<path d="M641.1 567.5L648.4 575.3L641.1 583.1L633.8 575.3Z" fill="#00b0f0" stroke="#1f8fd0" stroke-width="1.3"/>
<path d="M647.0 573.4L654.3 581.2L647.0 589.0L639.7 581.2Z" fill="#00b0f0" stroke="#1f8fd0" stroke-width="1.3"/>
<path d="M622.7 572.1L630.0 579.9L622.7 587.7L615.4 579.9Z" fill="#00b0f0" stroke="#1f8fd0" stroke-width="1.3"/>
<path d="M629.3 586.6L636.6 594.4L629.3 602.2L622.0 594.4Z" fill="#00b0f0" stroke="#1f8fd0" stroke-width="1.3"/>
<path d="M679.8 587.2L687.1 595.0L679.8 602.8L672.5 595.0Z" fill="#00b0f0" stroke="#1f8fd0" stroke-width="1.3"/>
<path d="M738.2 462.6L745.5 470.4L738.2 478.2L730.9 470.4Z" fill="#00b0f0" stroke="#1f8fd0" stroke-width="1.3"/>
<path d="M771.7 450.7L779.0 458.5L771.7 466.3L764.4 458.5Z" fill="#00b0f0" stroke="#1f8fd0" stroke-width="1.3"/>
<path d="M782.8 446.1L790.1 453.9L782.8 461.7L775.5 453.9Z" fill="#00b0f0" stroke="#1f8fd0" stroke-width="1.3"/>
<path d="M776.3 443.5L783.6 451.3L776.3 459.1L769.0 451.3Z" fill="#00b0f0" stroke="#1f8fd0" stroke-width="1.3"/>
<path d="M760.5 461.9L767.8 469.7L760.5 477.5L753.2 469.7Z" fill="#00b0f0" stroke="#1f8fd0" stroke-width="1.3"/>
<path d="M771.0 460.6L778.3 468.4L771.0 476.2L763.7 468.4Z" fill="#00b0f0" stroke="#1f8fd0" stroke-width="1.3"/>
<path d="M753.3 469.8L760.6 477.6L753.3 485.4L746.0 477.6Z" fill="#00b0f0" stroke="#1f8fd0" stroke-width="1.3"/>
<path d="M763.8 476.4L771.1 484.2L763.8 492.0L756.5 484.2Z" fill="#00b0f0" stroke="#1f8fd0" stroke-width="1.3"/>
<path d="M772.3 477.7L779.6 485.5L772.3 493.3L765.0 485.5Z" fill="#00b0f0" stroke="#1f8fd0" stroke-width="1.3"/>
<path d="M741.4 479.6L748.7 487.4L741.4 495.2L734.1 487.4Z" fill="#00b0f0" stroke="#1f8fd0" stroke-width="1.3"/>
<path d="M732.2 475.0L739.5 482.8L732.2 490.6L724.9 482.8Z" fill="#00b0f0" stroke="#1f8fd0" stroke-width="1.3"/>
<path d="M721.1 485.5L728.4 493.3L721.1 501.1L713.8 493.3Z" fill="#00b0f0" stroke="#1f8fd0" stroke-width="1.3"/>
<path d="M702.0 486.2L709.3 494.0L702.0 501.8L694.7 494.0Z" fill="#00b0f0" stroke="#1f8fd0" stroke-width="1.3"/>
<path d="M688.2 496.1L695.5 503.9L688.2 511.7L680.9 503.9Z" fill="#00b0f0" stroke="#1f8fd0" stroke-width="1.3"/>
<path d="M702.0 498.7L709.3 506.5L702.0 514.3L694.7 506.5Z" fill="#00b0f0" stroke="#1f8fd0" stroke-width="1.3"/>
<path d="M709.9 494.7L717.2 502.5L709.9 510.3L702.6 502.5Z" fill="#00b0f0" stroke="#1f8fd0" stroke-width="1.3"/>
<path d="M751.3 493.4L758.6 501.2L751.3 509.0L744.0 501.2Z" fill="#00b0f0" stroke="#1f8fd0" stroke-width="1.3"/>
<path d="M744.1 501.3L751.4 509.1L744.1 516.9L736.8 509.1Z" fill="#00b0f0" stroke="#1f8fd0" stroke-width="1.3"/>
<path d="M750.0 511.2L757.3 519.0L750.0 526.8L742.7 519.0Z" fill="#00b0f0" stroke="#1f8fd0" stroke-width="1.3"/>
<path d="M734.9 517.7L742.2 525.5L734.9 533.3L727.6 525.5Z" fill="#00b0f0" stroke="#1f8fd0" stroke-width="1.3"/>
<path d="M742.8 529.6L750.1 537.4L742.8 545.2L735.5 537.4Z" fill="#00b0f0" stroke="#1f8fd0" stroke-width="1.3"/>
<path d="M688.2 519.7L695.5 527.5L688.2 535.3L680.9 527.5Z" fill="#00b0f0" stroke="#1f8fd0" stroke-width="1.3"/>
<path d="M681.7 515.8L689.0 523.6L681.7 531.4L674.4 523.6Z" fill="#00b0f0" stroke="#1f8fd0" stroke-width="1.3"/>
<path d="M662.6 521.0L669.9 528.8L662.6 536.6L655.3 528.8Z" fill="#00b0f0" stroke="#1f8fd0" stroke-width="1.3"/>
<path d="M709.3 505.9L716.6 513.7L709.3 521.5L702.0 513.7Z" fill="#00b0f0" stroke="#1f8fd0" stroke-width="1.3"/>
<path d="M774.5 391.4L781.8 399.2L774.5 407.0L767.2 399.2Z" fill="#00b0f0" stroke="#1f8fd0" stroke-width="1.3"/>
<path d="M783.4 409.2L790.7 417.0L783.4 424.8L776.1 417.0Z" fill="#00b0f0" stroke="#1f8fd0" stroke-width="1.3"/>
<path d="M795.5 423.3L802.8 431.1L795.5 438.9L788.2 431.1Z" fill="#00b0f0" stroke="#1f8fd0" stroke-width="1.3"/>
<path d="M806.7 433.8L814.0 441.6L806.7 449.4L799.4 441.6Z" fill="#00b0f0" stroke="#1f8fd0" stroke-width="1.3"/>
<path d="M755.8 429.9L763.1 437.7L755.8 445.5L748.5 437.7Z" fill="#00b0f0" stroke="#1f8fd0" stroke-width="1.3"/>
<path d="M766.0 437.1L773.3 444.9L766.0 452.7L758.7 444.9Z" fill="#00b0f0" stroke="#1f8fd0" stroke-width="1.3"/>
</g>
<line x1="207.6" y1="976.0" x2="1140.7" y2="104.5" stroke="#000" stroke-width="4.8" stroke-dasharray="20.6 16.15" stroke-dashoffset="-6.8"/>
<g id="axes">
<line x1="207.6" y1="83.6" x2="207.6" y2="976.0" stroke="#404040" stroke-width="3.6" stroke-linecap="round"/>
<line x1="207.6" y1="83.6" x2="1163.0" y2="83.6" stroke="#2a2a2a" stroke-width="3.4" stroke-linecap="round"/>
<line x1="1163.0" y1="83.6" x2="1163.0" y2="976.0" stroke="#2a2a2a" stroke-width="3.6" stroke-linecap="round"/>
<line x1="207.6" y1="975.9" x2="1163.0" y2="975.9" stroke="#0a0a0a" stroke-width="3.9" stroke-linecap="round"/>
<line x1="207.60" y1="976.0" x2="207.60" y2="963.5" stroke="#161616" stroke-width="3.6"/>
<line x1="231.48" y1="976.0" x2="231.48" y2="966.5" stroke="#161616" stroke-width="2.8"/>
<line x1="255.37" y1="976.0" x2="255.37" y2="966.5" stroke="#161616" stroke-width="2.8"/>
<line x1="279.25" y1="976.0" x2="279.25" y2="966.5" stroke="#161616" stroke-width="2.8"/>
<line x1="303.14" y1="976.0" x2="303.14" y2="966.5" stroke="#161616" stroke-width="2.8"/>
<line x1="327.02" y1="976.0" x2="327.02" y2="963.5" stroke="#161616" stroke-width="2.8"/>
<line x1="350.91" y1="976.0" x2="350.91" y2="966.5" stroke="#161616" stroke-width="2.8"/>
<line x1="374.79" y1="976.0" x2="374.79" y2="966.5" stroke="#161616" stroke-width="2.8"/>
<line x1="398.68" y1="976.0" x2="398.68" y2="966.5" stroke="#161616" stroke-width="2.8"/>
<line x1="422.56" y1="976.0" x2="422.56" y2="966.5" stroke="#161616" stroke-width="2.8"/>
<line x1="446.45" y1="976.0" x2="446.45" y2="963.5" stroke="#161616" stroke-width="2.8"/>
<line x1="470.34" y1="976.0" x2="470.34" y2="966.5" stroke="#161616" stroke-width="2.8"/>
<line x1="494.22" y1="976.0" x2="494.22" y2="966.5" stroke="#161616" stroke-width="2.8"/>
<line x1="518.11" y1="976.0" x2="518.11" y2="966.5" stroke="#161616" stroke-width="2.8"/>
<line x1="541.99" y1="976.0" x2="541.99" y2="966.5" stroke="#161616" stroke-width="2.8"/>
<line x1="565.88" y1="976.0" x2="565.88" y2="963.5" stroke="#161616" stroke-width="2.8"/>
<line x1="589.76" y1="976.0" x2="589.76" y2="966.5" stroke="#161616" stroke-width="2.8"/>
<line x1="613.64" y1="976.0" x2="613.64" y2="966.5" stroke="#161616" stroke-width="2.8"/>
<line x1="637.53" y1="976.0" x2="637.53" y2="966.5" stroke="#161616" stroke-width="2.8"/>
<line x1="661.41" y1="976.0" x2="661.41" y2="966.5" stroke="#161616" stroke-width="2.8"/>
<line x1="685.30" y1="976.0" x2="685.30" y2="963.5" stroke="#161616" stroke-width="2.8"/>
<line x1="709.18" y1="976.0" x2="709.18" y2="966.5" stroke="#161616" stroke-width="2.8"/>
<line x1="733.07" y1="976.0" x2="733.07" y2="966.5" stroke="#161616" stroke-width="2.8"/>
<line x1="756.96" y1="976.0" x2="756.96" y2="966.5" stroke="#161616" stroke-width="2.8"/>
<line x1="780.84" y1="976.0" x2="780.84" y2="966.5" stroke="#161616" stroke-width="2.8"/>
<line x1="804.73" y1="976.0" x2="804.73" y2="963.5" stroke="#161616" stroke-width="2.8"/>
<line x1="828.61" y1="976.0" x2="828.61" y2="966.5" stroke="#161616" stroke-width="2.8"/>
<line x1="852.50" y1="976.0" x2="852.50" y2="966.5" stroke="#161616" stroke-width="2.8"/>
<line x1="876.38" y1="976.0" x2="876.38" y2="966.5" stroke="#161616" stroke-width="2.8"/>
<line x1="900.26" y1="976.0" x2="900.26" y2="966.5" stroke="#161616" stroke-width="2.8"/>
<line x1="924.15" y1="976.0" x2="924.15" y2="963.5" stroke="#161616" stroke-width="2.8"/>
<line x1="948.03" y1="976.0" x2="948.03" y2="966.5" stroke="#161616" stroke-width="2.8"/>
<line x1="971.92" y1="976.0" x2="971.92" y2="966.5" stroke="#161616" stroke-width="2.8"/>
<line x1="995.81" y1="976.0" x2="995.81" y2="966.5" stroke="#161616" stroke-width="2.8"/>
<line x1="1019.69" y1="976.0" x2="1019.69" y2="966.5" stroke="#161616" stroke-width="2.8"/>
<line x1="1043.58" y1="976.0" x2="1043.58" y2="963.5" stroke="#161616" stroke-width="2.8"/>
<line x1="1067.46" y1="976.0" x2="1067.46" y2="966.5" stroke="#161616" stroke-width="2.8"/>
<line x1="1091.34" y1="976.0" x2="1091.34" y2="966.5" stroke="#161616" stroke-width="2.8"/>
<line x1="1115.23" y1="976.0" x2="1115.23" y2="966.5" stroke="#161616" stroke-width="2.8"/>
<line x1="1139.12" y1="976.0" x2="1139.12" y2="966.5" stroke="#161616" stroke-width="2.8"/>
<line x1="1163.00" y1="976.0" x2="1163.00" y2="963.5" stroke="#161616" stroke-width="3.6"/>
</g>
<g id="labels" filter="url(#soft)">
<text class="sans" x="172.8" y="991.9" font-size="46.3" text-anchor="end" textLength="75.1" lengthAdjust="spacingAndGlyphs" fill="#000">260</text>
<text class="sans" x="172.8" y="880.4" font-size="46.3" text-anchor="end" textLength="75.1" lengthAdjust="spacingAndGlyphs" fill="#000">270</text>
<text class="sans" x="172.8" y="768.8" font-size="46.3" text-anchor="end" textLength="75.1" lengthAdjust="spacingAndGlyphs" fill="#000">280</text>
<text class="sans" x="172.8" y="657.2" font-size="46.3" text-anchor="end" textLength="75.1" lengthAdjust="spacingAndGlyphs" fill="#000">290</text>
<text class="sans" x="172.8" y="545.7" font-size="46.3" text-anchor="end" textLength="75.1" lengthAdjust="spacingAndGlyphs" fill="#000">300</text>
<text class="sans" x="172.8" y="434.1" font-size="46.3" text-anchor="end" textLength="75.1" lengthAdjust="spacingAndGlyphs" fill="#000">310</text>
<text class="sans" x="172.8" y="322.6" font-size="46.3" text-anchor="end" textLength="75.1" lengthAdjust="spacingAndGlyphs" fill="#000">320</text>
<text class="sans" x="172.8" y="211.0" font-size="46.3" text-anchor="end" textLength="75.1" lengthAdjust="spacingAndGlyphs" fill="#000">330</text>
<text class="sans" x="172.8" y="99.5" font-size="46.3" text-anchor="end" textLength="75.1" lengthAdjust="spacingAndGlyphs" fill="#000">340</text>
<text class="sans" x="208.3" y="1043.7" font-size="46.3" text-anchor="middle" textLength="75.1" lengthAdjust="spacingAndGlyphs" fill="#000">260</text>
<text class="sans" x="327.7" y="1043.7" font-size="46.3" text-anchor="middle" textLength="75.1" lengthAdjust="spacingAndGlyphs" fill="#000">270</text>
<text class="sans" x="447.1" y="1043.7" font-size="46.3" text-anchor="middle" textLength="75.1" lengthAdjust="spacingAndGlyphs" fill="#000">280</text>
<text class="sans" x="566.6" y="1043.7" font-size="46.3" text-anchor="middle" textLength="75.1" lengthAdjust="spacingAndGlyphs" fill="#000">290</text>
<text class="sans" x="686.0" y="1043.7" font-size="46.3" text-anchor="middle" textLength="75.1" lengthAdjust="spacingAndGlyphs" fill="#000">300</text>
<text class="sans" x="805.4" y="1043.7" font-size="46.3" text-anchor="middle" textLength="75.1" lengthAdjust="spacingAndGlyphs" fill="#000">310</text>
<text class="sans" x="924.9" y="1043.7" font-size="46.3" text-anchor="middle" textLength="75.1" lengthAdjust="spacingAndGlyphs" fill="#000">320</text>
<text class="sans" x="1044.3" y="1043.7" font-size="46.3" text-anchor="middle" textLength="75.1" lengthAdjust="spacingAndGlyphs" fill="#000">330</text>
<text class="sans" x="1163.7" y="1043.7" font-size="46.3" text-anchor="middle" textLength="75.1" lengthAdjust="spacingAndGlyphs" fill="#000">340</text>
<text class="sans" transform="translate(74.9 530.7) rotate(-90)" x="0" y="0" font-size="40" font-weight="bold" text-anchor="middle" textLength="218" lengthAdjust="spacingAndGlyphs" fill="#000">TFSWA LST</text>
<text class="sans" x="604.3" y="1171.5" font-size="48" font-weight="bold" text-anchor="middle" textLength="192.6" lengthAdjust="spacingAndGlyphs" fill="#000">All field</text>
<text class="sans" x="254.4" y="152.0" font-size="37.8" stroke="#000" stroke-width="1.15" stroke-linejoin="round" textLength="211.0" lengthAdjust="spacingAndGlyphs" fill="#000">RMSE=2.31K</text>
<text class="sans" x="254.4" y="195.2" font-size="37.8" stroke="#000" stroke-width="1.15" stroke-linejoin="round" textLength="193.0" lengthAdjust="spacingAndGlyphs" fill="#000">MAE=1.79K</text>
<text class="sans" x="254.4" y="239.5" font-size="37.8" stroke="#000" stroke-width="1.15" stroke-linejoin="round" textLength="177.8" lengthAdjust="spacingAndGlyphs" fill="#000">STD=2.12K</text>
<text class="sans" x="254.4" y="283.3" font-size="37.8" stroke="#000" stroke-width="1.15" stroke-linejoin="round" textLength="162.0" lengthAdjust="spacingAndGlyphs" fill="#000">Num=318</text>
<text class="sans" x="254.4" y="327.6" font-size="37.8" stroke="#000" stroke-width="1.15" stroke-linejoin="round" fill="#000"><tspan textLength="23.4" lengthAdjust="spacingAndGlyphs">R</tspan><tspan font-size="24" dy="-13.4" dx="-0.4" textLength="12" lengthAdjust="spacingAndGlyphs">2</tspan><tspan x="296.8" y="327.6" textLength="19" lengthAdjust="spacingAndGlyphs">=</tspan> <tspan x="325.4" textLength="73.2" lengthAdjust="spacingAndGlyphs">0.98</tspan></text>
<text class="serif" x="976.5" y="557.3" font-size="43.4" textLength="85" lengthAdjust="spacingAndGlyphs" fill="#222">BND</text>
<text class="serif" x="976.5" y="630.7" font-size="43.4" textLength="102.5" lengthAdjust="spacingAndGlyphs" fill="#222">GWM</text>
<text class="serif" x="976.5" y="704.2" font-size="43.4" textLength="73" lengthAdjust="spacingAndGlyphs" fill="#222">PSU</text>
<text class="serif" x="976.5" y="777.7" font-size="43.4" textLength="72" lengthAdjust="spacingAndGlyphs" fill="#222">SFX</text>
</g>
<g id="legend-markers">
<rect x="950.2" y="536.0" width="12.2" height="12.2" fill="#843c0c" stroke="#ee1c12" stroke-width="1.8"/>
<path d="M956.3 609.0L963.3 624.5L949.3 624.5Z" fill="#a5a5a5" stroke="#3a5594" stroke-width="1.9" stroke-linejoin="miter"/>
<path d="M956.3 683.0L963.3 698.5L949.3 698.5Z" fill="#ffc000" stroke="#e43a17" stroke-width="1.9" stroke-linejoin="miter"/>
<path d="M956.3 756.2L963.6 764.0L956.3 771.8L949.0 764.0Z" fill="#00b0f0" stroke="#1f8fd0" stroke-width="1.3"/>
</g>
</g>
<text class="serif" x="645.1" y="1324" font-size="68.6" text-anchor="middle" fill="#000">(<tspan font-weight="bold">e</tspan>)</text>
<g id="pie">
<path d="M1947.3 497.0L1947.30 46.30A480.6 450.7 0 0 1 2381.64 689.92Z" fill="#5b9bd5"/>
<path d="M1947.3 497.0L2381.64 689.92A480.6 450.7 0 0 1 1567.74 773.46Z" fill="#ed7d31"/>
<path d="M1947.3 497.0L1567.74 773.46A480.6 450.7 0 0 1 1947.30 46.30Z" fill="#a5a5a5"/>
<line x1="1947.3" y1="497.0" x2="1947.30" y2="41.79" stroke="#fff" stroke-width="8.3" stroke-linecap="butt"/>
<line x1="1947.3" y1="497.0" x2="2385.99" y2="691.85" stroke="#fff" stroke-width="8.3" stroke-linecap="butt"/>
<line x1="1947.3" y1="497.0" x2="1563.94" y2="776.23" stroke="#fff" stroke-width="8.3" stroke-linecap="butt"/>
<circle cx="1947.3" cy="497.0" r="4.1" fill="#fff"/>
<text class="serif" x="2280.7" y="323.3" font-size="64" font-weight="bold" text-anchor="middle" textLength="113.4" lengthAdjust="spacingAndGlyphs" fill="#000">0.32</text>
<text class="serif" x="1993.6" y="903.2" font-size="64" font-weight="bold" text-anchor="middle" textLength="113.4" lengthAdjust="spacingAndGlyphs" fill="#000">0.32</text>
<text class="serif" x="1592.4" y="353.1" font-size="64" font-weight="bold" text-anchor="middle" textLength="113.4" lengthAdjust="spacingAndGlyphs" fill="#000">0.36</text>
<rect x="1630.6" y="1064.9" width="24.4" height="22.2" fill="#5b9bd5"/>
<rect x="1857.2" y="1064.9" width="24.6" height="22.2" fill="#ed7d31"/>
<rect x="2073.6" y="1064.9" width="24.4" height="22.2" fill="#a5a5a5"/>
<text class="cjk" x="1674.6" y="1096.4" font-size="64" font-weight="bold" fill="#000"><tspan font-size="50" dy="-3.1" textLength="66" lengthAdjust="spacingAndGlyphs" stroke="#000" stroke-width="1.1">＞</tspan><tspan x="1740" y="1096.4" textLength="84.5" lengthAdjust="spacingAndGlyphs">2K</tspan></text>
<text class="serif" x="1901.6" y="1096.4" font-size="64" font-weight="bold" textLength="138.6" lengthAdjust="spacingAndGlyphs" fill="#000">1-2K</text>
<text class="serif" x="2117" y="1096.4" font-size="64" font-weight="bold" textLength="139.8" lengthAdjust="spacingAndGlyphs" fill="#000">0-1K</text>
</g>
<text class="serif" x="1940.2" y="1324" font-size="68.6" text-anchor="middle" fill="#000">(<tspan font-weight="bold">f</tspan>)</text>
</svg>
</body></html>
